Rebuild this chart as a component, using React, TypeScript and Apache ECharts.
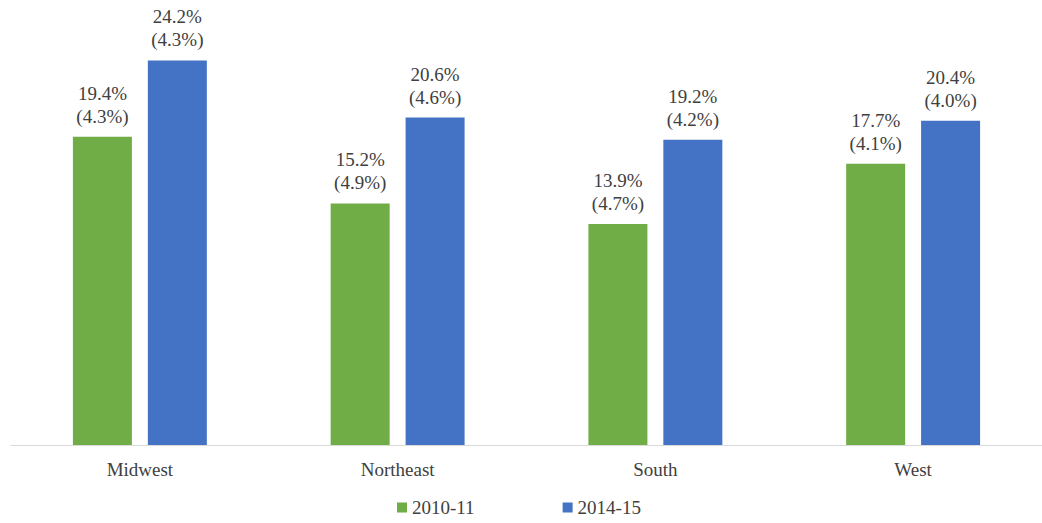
import React, { useEffect, useRef } from "react";
import * as echarts from "echarts";

const categories = ["Midwest", "Northeast", "South", "West"];
const values2010 = [19.4, 15.2, 13.9, 17.7];
const se2010 = [4.3, 4.9, 4.7, 4.1];
const values2014 = [24.2, 20.6, 19.2, 20.4];
const se2014 = [4.3, 4.6, 4.2, 4.0];
const seriesNames = ["2010-11", "2014-15"];

const FONT = "Times New Roman, Liberation Serif, DejaVu Serif, serif";

export default function App() {
  const ref = useRef<HTMLDivElement>(null);
  useEffect(() => {
    if (!ref.current) return;
    const chart = echarts.init(ref.current, null, { renderer: "svg" });
    const mkLabel = (se: number[]) => ({
      show: true,
      position: "top",
      distance: 9,
      color: "#404040",
      fontFamily: FONT,
      fontSize: 19,
      lineHeight: 23,
      formatter: (p: any) => `${p.value.toFixed(1)}%\n(${se[p.dataIndex].toFixed(1)}%)`,
    });
    chart.setOption({
      animation: false,
      textStyle: { fontFamily: FONT },
      grid: { left: 11, right: -6, top: 0, bottom: 78, containLabel: false },
      legend: {
        bottom: 1,
        left: 392,
        itemWidth: 10,
        itemHeight: 10,
        itemGap: 88,
        icon: "rect",
        textStyle: { fontFamily: FONT, fontSize: 19, color: "#404040" },
        data: seriesNames,
      },
      xAxis: {
        type: "category",
        data: categories,
        axisLine: { lineStyle: { color: "#d9d9d9", width: 1 } },
        axisTick: { show: false },
        axisLabel: { fontFamily: FONT, fontSize: 19, color: "#404040", margin: 15 },
      },
      yAxis: {
        type: "value",
        min: 0,
        max: 28,
        show: false,
        splitLine: { show: false },
      },
      series: [
        {
          name: seriesNames[0],
          type: "bar",
          data: values2010,
          barWidth: 59,
          barGap: "27%",
          itemStyle: { color: "#70AD47" },
          label: mkLabel(se2010),
        },
        {
          name: seriesNames[1],
          type: "bar",
          data: values2014,
          barWidth: 59,
          itemStyle: { color: "#4472C4" },
          label: mkLabel(se2014),
        },
      ],
    });
    return () => chart.dispose();
  }, []);
  return <div ref={ref} style={{ width: 1042, height: 523, position: "absolute", left: 0, top: 0 }} />;
}
